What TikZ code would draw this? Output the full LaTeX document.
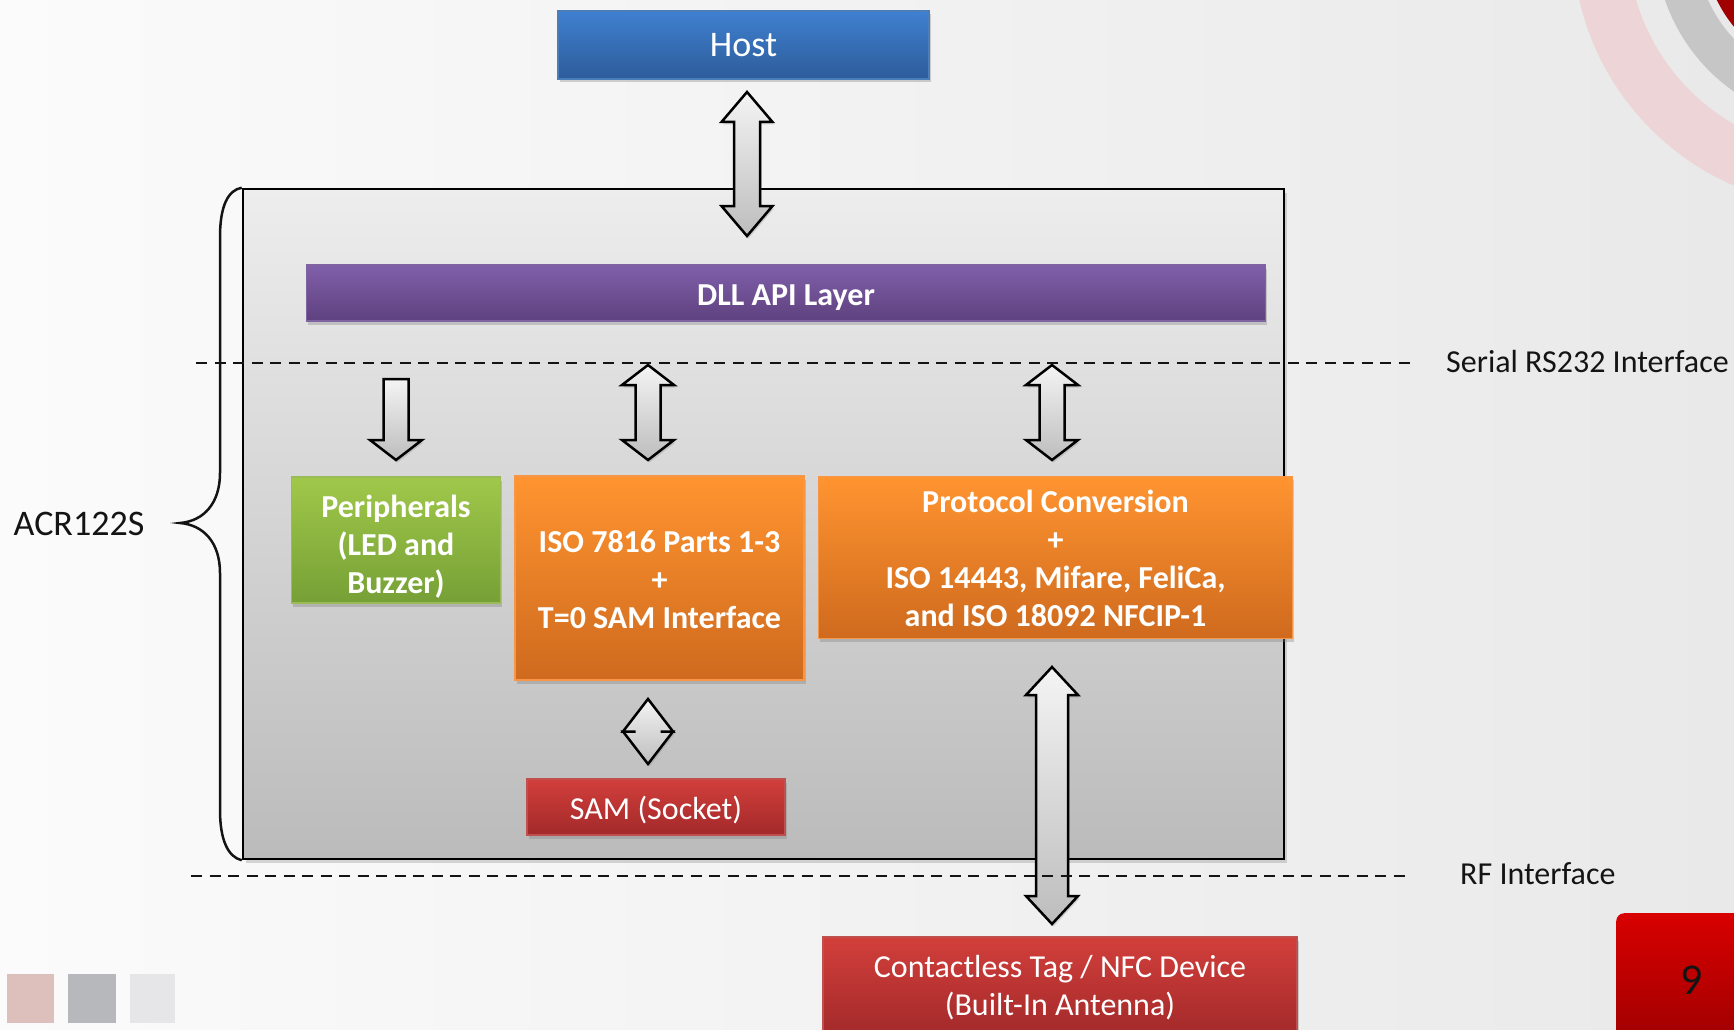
\documentclass[tikz,border=0pt]{standalone}
\usepackage{fontspec}
\setmainfont{Carlito}
\usetikzlibrary{shadows,calc}
\definecolor{bgleft}{HTML}{FBFBFB}
\definecolor{bgright}{HTML}{E9E9E9}
\definecolor{hosttop}{HTML}{3F80D0}
\definecolor{hostbot}{HTML}{2D5C9A}
\definecolor{hostedge}{HTML}{4A7EBB}
\definecolor{dlltop}{HTML}{8060AA}
\definecolor{dllbot}{HTML}{5E417F}
\definecolor{dlledge}{HTML}{8064A2}
\definecolor{greentop}{HTML}{A0C84A}
\definecolor{greenbot}{HTML}{76A036}
\definecolor{greenedge}{HTML}{9BBB59}
\definecolor{orangetop}{HTML}{FF9430}
\definecolor{orangebot}{HTML}{CF6A1E}
\definecolor{orangeedge}{HTML}{F79646}
\definecolor{redtop}{HTML}{D23F3B}
\definecolor{redbot}{HTML}{A2292A}
\definecolor{rededge}{HTML}{C0504D}
\definecolor{maintop}{HTML}{EDEDED}
\definecolor{mainbot}{HTML}{BBBBBB}
\definecolor{arrtop}{HTML}{F4F4F4}
\definecolor{arrbot}{HTML}{BDBDBD}
\definecolor{pagetop}{HTML}{D80000}
\definecolor{pagebot}{HTML}{A00000}
\definecolor{ringpink}{HTML}{EDD5D7}
\definecolor{ringgrey}{HTML}{C6C6C6}
\definecolor{ringred}{HTML}{A00000}
\definecolor{sqpink}{HTML}{DDBFBC}
\definecolor{sqgrey}{HTML}{B6B8BB}
\definecolor{sqlight}{HTML}{E6E6E8}
\definecolor{txt}{HTML}{141414}

\tikzset{
  box/.style={draw, line width=1.5pt, inner sep=0pt, align=center, text=white,
    font=\fontsize{32}{38}\selectfont,
    drop shadow={opacity=0.35, shadow xshift=1.5pt, shadow yshift=-3.5pt}},
  boxtext/.style={inner sep=0pt, align=center, text=white, font=\fontsize{32}{38}\selectfont\bfseries},
  bluebox/.style={box, draw=hostedge, top color=hosttop, bottom color=hostbot},
  purplebox/.style={box, draw=dlledge, top color=dlltop, bottom color=dllbot},
  greenbox/.style={box, draw=greenedge, top color=greentop, bottom color=greenbot},
  orangebox/.style={box, draw=orangeedge, top color=orangetop, bottom color=orangebot},
  redbox/.style={box, draw=rededge, top color=redtop, bottom color=redbot},
  mainbox/.style={draw=black, line width=2.5pt, inner sep=0pt,
    top color=maintop, bottom color=mainbot,
    drop shadow={opacity=0.3, shadow xshift=3pt, shadow yshift=-4pt}},
  blockarrow/.style={draw=black, line width=2.5pt, line join=miter,
    top color=arrtop, bottom color=arrbot,
    drop shadow={opacity=0.3, shadow xshift=1.5pt, shadow yshift=-2.5pt}},
  dashline/.style={line width=2.5pt, dash pattern=on 11pt off 7.5pt, color=txt},
  plainlabel/.style={text=txt, inner sep=0pt, font=\fontsize{32}{38}\selectfont},
}

% double block arrow: x, ytop, ybot, head length, shaft half width, head half width
\newcommand{\dblarr}[6]{%
  \path[blockarrow] (#1,#2) -- (#1+#6,#2+#4) -- (#1+#5,#2+#4) -- (#1+#5,#3-#4)
    -- (#1+#6,#3-#4) -- (#1,#3) -- (#1-#6,#3-#4) -- (#1-#5,#3-#4)
    -- (#1-#5,#2+#4) -- (#1-#6,#2+#4) -- cycle;}
% down block arrow: x, ytop, ybot, head length, shaft half width, head half width
\newcommand{\dnarr}[6]{%
  \path[blockarrow] (#1-#5,#2) -- (#1+#5,#2) -- (#1+#5,#3-#4) -- (#1+#6,#3-#4)
    -- (#1,#3) -- (#1-#6,#3-#4) -- (#1-#5,#3-#4) -- cycle;}

\begin{document}
\begin{tikzpicture}[x=1pt, y=-1pt]
\useasboundingbox (0,0) rectangle (1734,1030);
\begin{scope}
\clip (0,0) rectangle (1734,1030);
% background
\shade[left color=bgleft, right color=bgright] (0,0) rectangle (1734,1030);
% top-right decorative rings
\draw[line width=55pt, color=ringpink] (1840,-60) circle (240pt);
\draw[line width=40pt, color=ringgrey] (1840,-60) circle (165pt);
\fill[ringred] (1840,-60) circle (137pt);
% bottom-left squares
\fill[sqpink] (7,974) rectangle (54,1023);
\fill[sqgrey] (68,974) rectangle (116,1023);
\fill[sqlight] (130,974) rectangle (175,1023);
% page number tab
\node[draw=none, rounded corners=8pt, top color=pagetop, bottom color=pagebot,
  minimum width=130pt, minimum height=130pt, inner sep=0pt, anchor=north west] (pagetab) at (1616,913) {};
\node[text=txt, font=\fontsize{44}{50}\selectfont, inner sep=0pt] (pagenum) at (1692,980) {9};
\end{scope}

% main ACR122S box
\node[mainbox, minimum width=1041pt, minimum height=670pt] (acr) at (763.5,524) {};

% brace
\draw[line width=2.5pt, color=txt]
  (acr.north west) .. controls (228,190) and (220,206) .. (220,237)
  -- (220,473) .. controls (220,503) and (204,521) .. (180,523)
  .. controls (204,525) and (220,543) .. (220,573)
  -- (220,810) .. controls (220,840) and (228,857) .. (acr.south west);
\node[plainlabel, font=\fontsize{36}{43}\selectfont] (acrlabel) at (79,524) {ACR122S};

% Host and DLL
\node[bluebox, font=\fontsize{36}{43}\selectfont, minimum width=371pt, minimum height=68pt] (host) at (743.5,45) {Host};
\node[purplebox, minimum width=959pt, minimum height=56pt] (dll) at (786,293) {};
\node[boxtext] (dlltext) at ($(dll.center)+(0,5)$) {DLL API Layer};

% block arrows
\dblarr{747}{92}{236}{30}{13}{25.5}
\dnarr{396}{379}{460}{20}{12.5}{26}
\dblarr{648}{365}{460}{20}{12.5}{26}
\dblarr{1052}{365}{460}{20}{12.5}{26}
\dblarr{648}{699}{764}{32.5}{12.5}{25}
\dblarr{1052}{667}{924}{28}{16}{26}

% inner boxes
\node[greenbox, minimum width=209pt, minimum height=126pt] (periph) at (396,540) {};
\node[boxtext] (periphtext) at ($(periph.center)+(0,7)$) {Peripherals\\(LED and\\Buzzer)};
\node[orangebox, minimum width=289pt, minimum height=204pt] (iso) at (659.5,578) {};
\node[boxtext] (isotext) at ($(iso.center)+(0,2)$) {ISO 7816 Parts 1-3\\+\\T=0 SAM Interface};
\node[orangebox, minimum width=474pt, minimum height=162pt] (proto) at (1055.5,557.5) {};
\node[boxtext] (prototext) at ($(proto.center)+(0,1)$) {Protocol Conversion\\+\\ISO 14443, Mifare, FeliCa,\\and ISO 18092 NFCIP-1};
\node[redbox, minimum width=258pt, minimum height=56pt] (sam) at (656,807) {};
\node[boxtext, font=\fontsize{32}{38}\selectfont] (samtext) at ($(sam.center)+(0,3)$) {SAM (Socket)};
\node[redbox, minimum width=474pt, minimum height=100pt] (tag) at (1060,987) {};
\node[boxtext, font=\fontsize{32}{38}\selectfont] (tagtext) at ($(tag.center)+(0,1)$) {Contactless Tag / NFC Device\\(Built-In Antenna)};

% interface lines
\node[plainlabel, anchor=west] (serial) at (1446,362) {Serial RS232 Interface};
\node[plainlabel, anchor=west] (rf) at (1460,874) {RF Interface};
\coordinate (s1) at (196,363);
\coordinate (s2) at (1412,363);
\coordinate (r1) at (191,876);
\coordinate (r2) at (1407,876);
\draw[dashline] (s1) -- (s2);
\draw[dashline] (r1) -- (r2);
\end{tikzpicture}
\end{document}
